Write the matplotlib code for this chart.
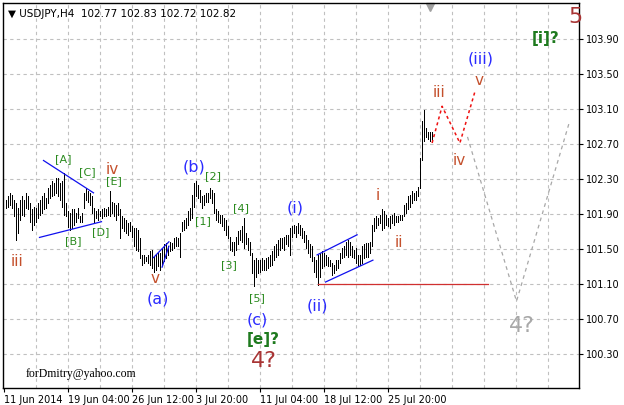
import numpy as np
import matplotlib
matplotlib.use("Agg")
import matplotlib.pyplot as plt

# H4 bars of USDJPY (bar index -> high / low)
highs = [
    102.06, 102.10, 102.14, 102.12, 102.06, 102.02, 101.97, 102.06, 102.10, 102.06,
    102.14, 102.10, 102.02, 101.95, 101.98, 101.97, 102.02, 102.06, 102.10, 102.14,
    102.08, 102.19, 102.23, 102.27, 102.25, 102.31, 102.31, 102.25, 102.27, 102.37,
    102.02, 101.93, 101.91, 101.95, 101.95, 101.91, 101.97, 101.87, 101.91, 102.14,
    102.19, 102.16, 102.14, 102.10, 101.97, 101.93, 101.95, 101.93, 101.95, 101.97,
    101.95, 101.98,
    102.16, 102.04, 102.02, 102.00, 102.02, 101.95, 101.87, 101.85, 101.83, 101.79,
    101.81, 101.76, 101.74, 101.74, 101.72, 101.62, 101.43, 101.43, 101.41, 101.43,
    101.47, 101.49, 101.41, 101.43, 101.45, 101.45, 101.51, 101.55, 101.57, 101.53,
    101.58, 101.57, 101.62, 101.64, 101.62, 101.68, 101.81, 101.83, 101.85, 101.93,
    101.97, 102.12, 102.25, 102.27, 102.23, 102.17, 102.10, 102.12, 102.14, 102.14,
    102.19, 102.17,
    102.14, 101.96, 101.93, 101.89, 101.89, 101.85, 101.83, 101.76, 101.64, 101.58,
    101.58, 101.64, 101.70, 101.72, 101.76, 101.85, 101.68, 101.62, 101.58, 101.45,
    101.37, 101.39, 101.37, 101.37, 101.39, 101.37, 101.39, 101.41, 101.43, 101.47,
    101.53, 101.55, 101.60, 101.62, 101.62, 101.64, 101.66, 101.66, 101.74, 101.76,
    101.77, 101.76, 101.79, 101.77, 101.74, 101.70, 101.66, 101.60, 101.56, 101.53,
    101.41,
    101.37, 101.43, 101.45, 101.47, 101.45, 101.43, 101.41, 101.37, 101.34, 101.32,
    101.37, 101.37, 101.45, 101.51, 101.53, 101.58, 101.60, 101.58, 101.53, 101.49,
    101.51, 101.43, 101.43, 101.53, 101.55, 101.57, 101.57, 101.58, 101.77, 101.85,
    101.87, 101.85, 101.89, 101.95, 101.93, 101.89, 101.85, 101.87, 101.89, 101.91,
    101.87, 101.87, 101.89, 101.89, 102.00, 102.02, 102.10, 102.12, 102.16, 102.14,
    102.16, 102.21, 102.54, 102.96, 103.09, 102.88, 102.84, 102.84, 102.83,
]
lows = [
    101.97, 101.98, 102.00, 101.97, 101.87, 101.60, 101.68, 101.83, 101.89, 101.87,
    101.97, 101.95, 101.81, 101.72, 101.77, 101.81, 101.85, 101.89, 101.91, 101.95,
    101.97, 102.02, 102.08, 102.10, 102.12, 102.14, 102.10, 102.06, 101.98, 101.89,
    101.87, 101.75, 101.72, 101.74, 101.77, 101.81, 101.85, 101.81, 101.81, 101.97,
    102.06, 102.04, 102.00, 101.91, 101.81, 101.85, 101.83, 101.87, 101.85, 101.87,
    101.87, 101.89,
    101.87, 101.91, 101.87, 101.83, 101.89, 101.62, 101.74, 101.70, 101.68, 101.66,
    101.70, 101.64, 101.53, 101.49, 101.47, 101.39, 101.32, 101.34, 101.36, 101.34,
    101.32, 101.28, 101.24, 101.26, 101.30, 101.26, 101.32, 101.36, 101.39, 101.43,
    101.47, 101.49, 101.51, 101.53, 101.53, 101.41, 101.70, 101.72, 101.74, 101.77,
    101.83, 101.85, 101.98, 102.10, 102.08, 102.04, 101.97, 102.00, 102.04, 102.04,
    102.08, 102.02,
    101.91, 101.83, 101.81, 101.79, 101.76, 101.72, 101.66, 101.62, 101.49, 101.47,
    101.43, 101.49, 101.55, 101.60, 101.58, 101.51, 101.55, 101.49, 101.43, 101.22,
    101.07, 101.18, 101.22, 101.24, 101.26, 101.26, 101.26, 101.28, 101.30, 101.32,
    101.37, 101.41, 101.43, 101.49, 101.51, 101.49, 101.55, 101.53, 101.43, 101.64,
    101.68, 101.64, 101.68, 101.66, 101.62, 101.58, 101.51, 101.45, 101.41, 101.36,
    101.24,
    101.18, 101.09, 101.18, 101.28, 101.30, 101.32, 101.30, 101.30, 101.20, 101.22,
    101.26, 101.28, 101.34, 101.39, 101.41, 101.43, 101.41, 101.43, 101.41, 101.39,
    101.34, 101.30, 101.32, 101.34, 101.39, 101.41, 101.41, 101.45, 101.53, 101.70,
    101.74, 101.77, 101.79, 101.72, 101.74, 101.77, 101.76, 101.74, 101.79, 101.77,
    101.81, 101.81, 101.83, 101.83, 101.87, 101.91, 101.95, 101.98, 102.02, 102.06,
    102.06, 102.10, 102.19, 102.52, 102.73, 102.78, 102.75, 102.73, 102.72,
]

x_tick_pos = [-1, 31, 63, 95, 127, 159, 191]
x_tick_labels = ["11 Jun 2014", "19 Jun 04:00", "26 Jun 12:00", "3 Jul 20:00",
                 "11 Jul 04:00", "18 Jul 12:00", "25 Jul 20:00"]
y_ticks = [100.30, 100.70, 101.10, 101.50, 101.90, 102.30, 102.70, 103.10, 103.50, 103.90]

# wave marks: text, bar, price, colour, size, weight
RED = "#c4502c"
GRN = "#2a8a1e"
BLU = "#2a2aff"
labels = [
    ("iii", 6, 101.35, RED, 11, "normal"),
    ("[A]", 29, 102.53, GRN, 8, "normal"),
    ("[B]", 34, 101.59, GRN, 8, "normal"),
    ("[C]", 41, 102.38, GRN, 8, "normal"),
    ("[D]", 47.5, 101.69, GRN, 8, "normal"),
    ("iv", 53.5, 102.41, RED, 11, "normal"),
    ("[E]", 54, 102.27, GRN, 8, "normal"),
    ("v", 75, 101.16, RED, 11, "normal"),
    ("(a)", 76, 100.93, BLU, 11.5, "normal"),
    ("(b)", 94, 102.43, BLU, 11.5, "normal"),
    ("[1]", 98.5, 101.82, GRN, 8, "normal"),
    ("[2]", 103.5, 102.33, GRN, 8, "normal"),
    ("[3]", 111.5, 101.31, GRN, 8, "normal"),
    ("[4]", 117.5, 101.96, GRN, 8, "normal"),
    ("[5]", 125.5, 100.94, GRN, 8, "normal"),
    ("(c)", 126, 100.69, BLU, 11.5, "normal"),
    ("[e]?", 129, 100.46, "#1e7a1e", 11, "bold"),
    ("4?", 129, 100.22, "#a83434", 16, "normal"),
    ("(i)", 145, 101.97, BLU, 11.5, "normal"),
    ("(ii)", 156, 100.85, BLU, 11.5, "normal"),
    ("i", 186, 102.11, RED, 11, "normal"),
    ("ii", 196.5, 101.57, RED, 11, "normal"),
    ("iii", 217, 103.29, RED, 11, "normal"),
    ("iv", 227, 102.51, RED, 11, "normal"),
    ("v", 237, 103.42, RED, 11, "normal"),
    ("(iii)", 237.5, 103.67, BLU, 11.5, "normal"),
    ("[i]?", 270, 103.91, "#1e7a1e", 11, "bold"),
    ("5", 285, 104.15, "#a83434", 16, "normal"),
    ("4?", 258, 100.62, "#a8a8a8", 16, "normal"),
]

# trend lines (bar, price) pairs
blue_lines = [
    ([19, 44], [102.51, 102.14]),
    ([17, 48], [101.63, 101.81]),
    ([74, 81.7], [101.40, 101.58]),
    ([78.3, 81.7], [101.29, 101.53]),
    ([155.8, 175.8], [101.43, 101.66]),
    ([160, 183.7], [101.12, 101.37]),
]
red_level = ([156, 241], [101.10, 101.10])
red_path = ([213.3, 218.3, 227.2, 235], [102.71, 103.13, 102.71, 103.32])
grey_path = ([231, 255.5, 281.7], [102.78, 100.90, 102.93])

fig = plt.figure(figsize=(6.24, 4.05), dpi=100)
ax = fig.add_axes([3 / 624, 17 / 405, 576 / 624, 385 / 405])
# quarter-bar offset puts each bar on a pixel centre
ax.set_xlim(-1.25, 286.75)
ax.set_ylim(99.908, 104.311)

bars = np.arange(len(highs))
ax.vlines(bars, lows, highs, color="black", lw=0.72, antialiased=False, zorder=3)

for xs, ys in blue_lines:
    ax.plot(xs, ys, color="#1010ee", lw=0.9, zorder=4)
ax.plot(*red_level, color="#d03030", lw=0.9, zorder=4)
ax.plot(*red_path, color="#ee1111", lw=1.1, ls=(0, (2, 2)), zorder=4)
ax.plot(*grey_path, color="#a8a8a8", lw=0.9, ls=(0, (3, 3)), zorder=2)

for txt, bx, py, col, fs, fw in labels:
    ax.text(bx, py, txt, color=col, fontsize=fs, fontweight=fw,
            ha="center", va="center", zorder=5)

ax.text(10, 100.07, "forDmitry@yahoo.com", family="Liberation Serif",
        fontsize=8.5, color="black", ha="left", va="center")
ax.text(0.008, 0.985, "\u25bc USDJPY,H4  102.77 102.83 102.72 102.82",
        transform=ax.transAxes, fontsize=7.5, ha="left", va="top")
ax.plot([212], [104.27], marker="v", color="#a0a0a0", ms=6, clip_on=False)

# grid
for gx in range(15, 287, 16):
    ax.axvline(gx, color="#c0c0c0", lw=0.8, ls=(0, (3, 3)), zorder=1)
for gy in y_ticks:
    ax.axhline(gy, color="#c0c0c0", lw=0.8, ls=(0, (3, 3)), zorder=1)

ax.yaxis.tick_right()
ax.set_yticks(y_ticks)
ax.set_yticklabels([f"{v:.2f}" for v in y_ticks])
ax.set_xticks(x_tick_pos)
ax.set_xticklabels(x_tick_labels, ha="left")
ax.tick_params(axis="both", direction="out", length=3, width=0.8, labelsize=7, pad=2)
for s in ax.spines.values():
    s.set_linewidth(1.0)

fig.savefig("out.png", dpi=100, facecolor="white")
